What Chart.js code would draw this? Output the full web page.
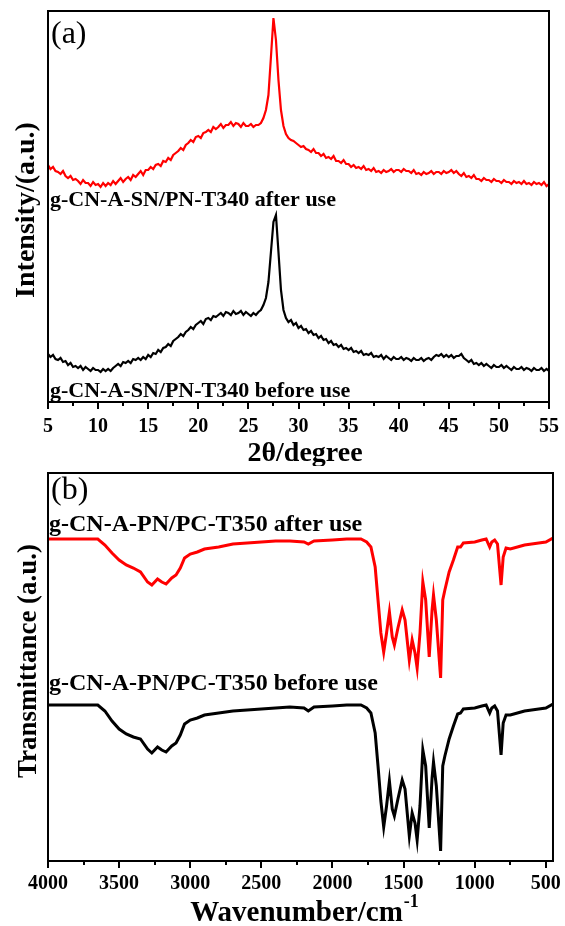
<!DOCTYPE html>
<html lang="en">
<head>
<meta charset="UTF-8" />
<title>XRD and FTIR – before / after use</title>
<script src="https://cdn.jsdelivr.net/npm/chart.js"></script>
<style>
  html, body { margin: 0; padding: 0; background: #fff; }
  #wrap { position: relative; width: 565px; height: 926px; overflow: hidden; }
  canvas { position: absolute; left: 0; }
  #xrdChart { top: 0; }
  #ftirChart { top: 466px; }
</style>
</head>
<body>
<div id="wrap">
  <canvas id="xrdChart" width="565" height="466"></canvas>
  <canvas id="ftirChart" width="565" height="460"></canvas>
</div>
<script>
// ---- (a) XRD, intensity in arbitrary units ----
const twoTheta = [
  5,5.25,5.5,5.75, 6,6.25,6.5,6.75, 7,7.25,7.5,7.75, 8,8.25,8.5,8.75, 9,9.25,9.5,9.75,
  10,10.25,10.5,10.75, 11,11.25,11.5,11.75, 12,12.25,12.5,12.75, 13,13.25,13.5,13.75, 14,14.25,14.5,14.75,
  15,15.25,15.5,15.75, 16,16.25,16.5,16.75, 17,17.25,17.5,17.75, 18,18.25,18.5,18.75, 19,19.25,19.5,19.75,
  20,20.25,20.5,20.75, 21,21.25,21.5,21.75, 22,22.25,22.5,22.75, 23,23.25,23.5,23.75, 24,24.25,24.5,24.75,
  25,25.25,25.5,25.75, 26,26.25,26.5,26.75, 27,27.25,27.5,27.75, 28,28.25,28.5,28.75, 29,29.25,29.5,29.75,
  30,30.25,30.5,30.75, 31,31.25,31.5,31.75, 32,32.25,32.5,32.75, 33,33.25,33.5,33.75, 34,34.25,34.5,34.75,
  35,35.25,35.5,35.75, 36,36.25,36.5,36.75, 37,37.25,37.5,37.75, 38,38.25,38.5,38.75, 39,39.25,39.5,39.75,
  40,40.25,40.5,40.75, 41,41.25,41.5,41.75, 42,42.25,42.5,42.75, 43,43.25,43.5,43.75, 44,44.25,44.5,44.75,
  45,45.25,45.5,45.75, 46,46.25,46.5,46.75, 47,47.25,47.5,47.75, 48,48.25,48.5,48.75, 49,49.25,49.5,49.75,
  50,50.25,50.5,50.75, 51,51.25,51.5,51.75, 52,52.25,52.5,52.75, 53,53.25,53.5,53.75, 54,54.25,54.5,54.75,
  55
];
const xrdAfter = [
  237,233,235,231, 230,228,231,226, 224,226,222,223, 221,218,222,219, 219,216,220,217,
  218,215,219,216, 219,217,221,218, 221,224,220,223, 225,222,227,225, 228,231,227,232,
  232,235,233,237, 238,236,241,240, 244,242,247,249, 251,254,252,257, 259,262,260,265,
  266,264,269,270, 272,270,275,273, 275,278,274,277, 277,280,276,279, 278,275,279,276,
  276,278,275,277, 277,279,284,292, 307,345,384,362, 322,292,276,268, 264,262,261,259,
  257,255,256,253, 252,250,253,249, 249,246,248,244, 245,243,246,241, 241,239,242,238,
  238,235,237,234, 235,233,236,232, 233,231,234,230, 231,229,232,230, 231,233,230,232,
  232,230,233,231, 231,229,232,228, 229,227,230,228, 229,231,228,230, 230,228,231,229,
  230,232,229,231, 228,226,229,225, 226,224,227,223, 223,221,224,222, 222,220,223,221,
  221,219,222,220, 220,218,221,219, 220,218,221,218, 219,217,220,218, 219,217,220,216,
  218
];
const xrdBefore = [
  48,45,47,43, 42,44,40,41, 37,39,35,36, 34,36,32,35, 33,31,34,32,
  32,30,33,31, 33,31,34,36, 38,36,40,39, 41,39,43,42, 44,42,45,43,
  47,45,49,48, 52,50,54,55, 58,56,61,63, 65,68,66,70, 72,75,73,77,
  79,81,78,83, 84,82,86,85, 87,89,86,90, 89,87,91,88, 89,91,87,90,
  88,86,89,87, 90,92,97,104, 120,150,180,187, 150,112,92,84, 80,82,77,79,
  74,76,72,73, 69,71,67,68, 64,66,62,63, 59,61,57,58, 55,57,53,54,
  52,54,50,51, 49,51,47,48, 47,49,45,46, 45,47,43,46, 44,42,45,43,
  43,45,42,44, 43,41,44,42, 42,44,41,43, 44,42,45,47, 46,48,45,47,
  45,47,44,46, 46,48,44,42, 40,42,38,39, 37,39,36,38, 36,34,37,35,
  35,37,34,36, 34,32,35,33, 33,35,32,34, 33,31,34,32, 32,34,31,33,
  31
];
const xrdTicks = [5, 10, 15, 20, 25, 30, 35, 40, 45, 50, 55];
const xrdMinorTicks = [7.5, 12.5, 17.5, 22.5, 27.5, 32.5, 37.5, 42.5, 47.5, 52.5];

// ---- (b) FTIR, transmittance in arbitrary units ----
const wavenumber = [
  4000, 3900, 3800, 3700, 3650, 3600, 3550, 3500, 3450, 3400,
  3350, 3300, 3270, 3230, 3200, 3170, 3130, 3100, 3070, 3040,
  3000, 2950, 2900, 2800, 2700, 2600, 2500, 2400, 2300, 2200,
  2170, 2130, 2000, 1900, 1800, 1760, 1730, 1700, 1680, 1660,
  1640, 1620, 1600, 1580, 1565, 1540, 1510, 1490, 1460, 1440,
  1420, 1405, 1385, 1365, 1345, 1320, 1300, 1290, 1270, 1240,
  1225, 1210, 1180, 1150, 1120, 1100, 1080, 1000, 950, 920,
  895, 880, 860, 840, 815, 800, 780, 750, 700, 650,
  600, 550, 500, 450
];
const ftirAfter = [
  322, 322, 322, 322, 322, 316, 308, 301, 296, 293,
  289, 279, 276, 282, 279, 277, 283, 286, 293, 303,
  307, 309, 312, 314, 317, 318, 319, 320, 320, 319,
  317, 320, 321, 322, 322, 319, 314, 294, 261, 228,
  209, 228, 249, 224, 216, 233, 251, 241, 201, 221,
  208, 193, 228, 279, 261, 204, 251, 266, 241, 183,
  261, 271, 289, 301, 314, 314, 318, 319, 321, 322,
  314, 319, 321, 317, 276, 304, 313, 312, 314, 316,
  317, 318, 319, 323
];
const ftirBefore = [
  156, 156, 156, 156, 156, 150, 140, 132, 127, 124,
  122, 112, 108, 114, 111, 109, 115, 118, 126, 137,
  141, 143, 146, 148, 150, 151, 152, 153, 154, 153,
  150, 154, 155, 156, 156, 153, 148, 128, 95, 60,
  34, 55, 80, 52, 45, 62, 81, 72, 25, 48,
  38, 21, 55, 111, 95, 33, 83, 99, 75, 10,
  95, 105, 122, 135, 147, 148, 152, 153, 155, 156,
  148, 153, 155, 150, 106, 138, 146, 146, 148, 150,
  151, 152, 153, 157
];
const ftirTicks = [4000, 3500, 3000, 2500, 2000, 1500, 1000, 500];
const ftirMinorTicks = [3750, 3250, 2750, 2250, 1750, 1250, 750];

const SERIF = "'Liberation Serif', 'Times New Roman', serif";
Chart.defaults.font.family = SERIF;
Chart.defaults.font.size = 20;
Chart.defaults.font.weight = 'bold';
Chart.defaults.color = '#000';

// frame, minor ticks and all free text of one panel
const panelDecor = {
  id: 'panelDecor',
  afterDraw(chart, args, opts) {
    const { ctx, chartArea: a } = chart;
    const x = chart.scales.x;
    ctx.save();
    ctx.strokeStyle = '#000';
    ctx.lineWidth = 2;
    ctx.strokeRect(a.left, a.top, a.right - a.left, a.bottom - a.top);
    ctx.beginPath();
    opts.minor.forEach(v => {
      const px = Math.round(x.getPixelForValue(v));
      ctx.moveTo(px, a.bottom);
      ctx.lineTo(px, a.bottom + 4);
    });
    ctx.stroke();

    ctx.fillStyle = '#000';
    ctx.textBaseline = 'alphabetic';
    opts.texts.forEach(t => {
      ctx.font = t.font;
      if (t.rotate) {
        ctx.save();
        ctx.translate(t.x, t.y);
        ctx.rotate(-Math.PI / 2);
        ctx.textAlign = 'center';
        ctx.fillText(t.text, 0, 0);
        ctx.restore();
      } else if (t.sup) {
        const w1 = ctx.measureText(t.text).width;
        ctx.font = t.supFont;
        const w2 = ctx.measureText(t.sup).width;
        const x0 = t.x - (w1 + w2) / 2;
        ctx.textAlign = 'left';
        ctx.font = t.font;
        ctx.fillText(t.text, x0, t.y);
        ctx.font = t.supFont;
        ctx.fillText(t.sup, x0 + w1 + 1, t.y - t.supRise);
      } else {
        ctx.textAlign = t.align || 'left';
        ctx.fillText(t.text, t.x, t.y);
      }
    });
    ctx.restore();
  }
};

function xAxis(min, max, reverse, tickVals, height, pad) {
  return {
    type: 'linear', min, max, reverse,
    afterFit: s => { s.height = height; },
    afterBuildTicks: s => { s.ticks = tickVals.map(v => ({ value: v })); },
    ticks: {
      autoSkip: false, maxRotation: 0, color: '#000', padding: pad,
      font: { family: SERIF, size: 20, weight: 'bold' },
      callback: v => String(v)
    },
    grid: { display: true, drawOnChartArea: false, drawTicks: true, tickLength: 7, color: '#000', lineWidth: 2 },
    border: { display: true, color: '#000', width: 2 }
  };
}

// (a)
new Chart(document.getElementById('xrdChart'), {
  type: 'line',
  data: {
    datasets: [
      { label: 'after use', data: twoTheta.map((t, i) => ({ x: t, y: xrdAfter[i] })),
        borderColor: '#ff0000', borderWidth: 2.2, pointRadius: 0, tension: 0 },
      { label: 'before use', data: twoTheta.map((t, i) => ({ x: t, y: xrdBefore[i] })),
        borderColor: '#000000', borderWidth: 2.2, pointRadius: 0, tension: 0 }
    ]
  },
  options: {
    responsive: false, animation: false, devicePixelRatio: 1,
    layout: { padding: { left: 48, right: 15, top: 11, bottom: 0 }, autoPadding: false },
    plugins: {
      legend: { display: false }, tooltip: { enabled: false },
      panelDecor: {
        minor: xrdMinorTicks,
        texts: [
          { text: '(a)', font: `32px ${SERIF}`, x: 51, y: 43 },
          { text: 'g-CN-A-SN/PN-T340 after use', font: `bold 22px ${SERIF}`, x: 50, y: 206 },
          { text: 'g-CN-A-SN/PN-T340 before use', font: `bold 22px ${SERIF}`, x: 50, y: 397 },
          { text: '2θ/degree', font: `bold 28px ${SERIF}`, x: 305, y: 461, align: 'center' },
          { text: 'Intensity/(a.u.)', font: `bold 28px ${SERIF}`, x: 34, y: 210, rotate: true }
        ]
      }
    },
    scales: {
      x: xAxis(5, 55, false, xrdTicks, 64, 6),
      y: { display: false, min: 0, max: 391 }
    }
  },
  plugins: [panelDecor]
});

// (b)
new Chart(document.getElementById('ftirChart'), {
  type: 'line',
  data: {
    datasets: [
      { label: 'after use', data: wavenumber.map((w, i) => ({ x: w, y: ftirAfter[i] })),
        borderColor: '#ff0000', borderWidth: 3, pointRadius: 0, tension: 0 },
      { label: 'before use', data: wavenumber.map((w, i) => ({ x: w, y: ftirBefore[i] })),
        borderColor: '#000000', borderWidth: 3, pointRadius: 0, tension: 0 }
    ]
  },
  options: {
    responsive: false, animation: false, devicePixelRatio: 1,
    layout: { padding: { left: 48, right: 9, top: 7, bottom: 0 }, autoPadding: false },
    plugins: {
      legend: { display: false }, tooltip: { enabled: false },
      panelDecor: {
        minor: ftirMinorTicks,
        texts: [
          { text: '(b)', font: `32px ${SERIF}`, x: 51, y: 33 },
          { text: 'g-CN-A-PN/PC-T350 after use', font: `bold 24px ${SERIF}`, x: 49, y: 65 },
          { text: 'g-CN-A-PN/PC-T350 before use', font: `bold 24px ${SERIF}`, x: 49, y: 224 },
          { text: 'Wavenumber/cm', sup: '-1', font: `bold 29px ${SERIF}`, supFont: `bold 18px ${SERIF}`,
            supRise: 14, x: 304, y: 455 },
          { text: 'Transmittance (a.u.)', font: `bold 27px ${SERIF}`, x: 36, y: 195, rotate: true }
        ]
      }
    },
    scales: {
      x: xAxis(450, 4000, true, ftirTicks, 65, 4),
      y: { display: false, min: 0, max: 388 }
    }
  },
  plugins: [panelDecor]
});
</script>
</body>
</html>
